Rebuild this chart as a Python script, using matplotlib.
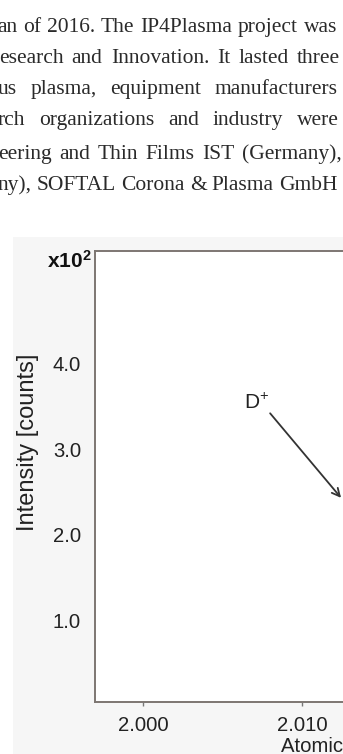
import matplotlib
matplotlib.use("Agg")
import matplotlib.pyplot as plt
from matplotlib.patches import Rectangle

# ---------------- data ----------------
paragraph_lines = [
    "an of 2016. The IP4Plasma project was",
    "esearch and Innovation. It lasted three",
    "us plasma, equipment manufacturers",
    "rch organizations and industry were",
    "eering and Thin Films IST (Germany),",
    "ny), SOFTAL Corona & Plasma GmbH",
]
x_ticks = [2.000, 2.010, 2.020]
x_tick_labels = ["2.000", "2.010", "2.020"]
y_ticks = [1.0, 2.0, 3.0, 4.0]
y_tick_labels = ["1.0", "2.0", "3.0", "4.0"]
x_limits = (1.99698, 2.0237)
y_limits = (0.04, 5.32)
y_scale_label = r"$\mathbf{x10^2}$"
y_label = "Intensity [counts]"
x_label = "Atomic mass [amu]"
peak_label = r"D$^{+}$"
peak_label_xy = (2.00711, 3.54)
peak_arrow_from = (2.00799, 3.42)
peak_arrow_to = (2.01245, 2.43)

# ---------------- layout ----------------
W, H, DPI = 343, 754, 100
plt.rcParams["mathtext.fontset"] = "custom"
plt.rcParams["mathtext.rm"] = "Liberation Sans"
plt.rcParams["mathtext.bf"] = "Liberation Sans:bold"
plt.rcParams["font.family"] = ["Liberation Sans", "DejaVu Sans"]

fig = plt.figure(figsize=(W / DPI, H / DPI), dpi=DPI)
fig.patch.set_facecolor("white")

def fx(px):
    return px / W

def fy(py):
    return 1 - py / H

# faint scanned-figure background
fig.patches.append(Rectangle((fx(13), 0), 1, fy(237), transform=fig.transFigure,
                             facecolor="#f6f6f6", edgecolor="none", zorder=-5))

# ---------------- paragraph (justified words) ----------------
line_baselines = [32, 63, 94, 125, 159, 190]
line_left = [-3, -1, -2, -2, -2, -2]
line_right = [337, 340, 338, 339, 342, 337]
fig.canvas.draw()
renderer = fig.canvas.get_renderer()
for text, base, left, right in zip(paragraph_lines, line_baselines, line_left, line_right):
    words = text.split(" ")
    objs = [fig.text(0, fy(base), w, fontsize=15.5, family=["Liberation Serif", "DejaVu Serif"],
                     color="#2a2a2a", ha="left", va="baseline") for w in words]
    widths = [o.get_window_extent(renderer).width for o in objs]
    gap = (right - left - sum(widths)) / max(len(words) - 1, 1)
    x = left
    for o, wd in zip(objs, widths):
        o.set_x(fx(x))
        x += wd + gap

# ---------------- chart ----------------
ax_left, ax_top, ax_bottom, ax_right = 95, 251, 702, 520
ax = fig.add_axes([fx(ax_left), fy(ax_bottom), fx(ax_right - ax_left), (ax_bottom - ax_top) / H])
ax.set_zorder(2)
ax.set_facecolor("white")
ax.set_xlim(*x_limits)
ax.set_ylim(*y_limits)
ax.set_xticks(x_ticks)
ax.set_xticklabels(x_tick_labels)
ax.set_yticks(y_ticks)
ax.set_yticklabels(y_tick_labels)
ax.tick_params(axis="x", length=3, width=1, color="#777777", pad=7, labelsize=14.6, labelcolor="#222222")
ax.tick_params(axis="y", length=0, pad=10, labelsize=14.6, labelcolor="#222222")
for s in ax.spines.values():
    s.set_color("#7d7672")
    s.set_linewidth(1.4)

ax.annotate("", xy=peak_arrow_to, xytext=peak_arrow_from,
            arrowprops=dict(arrowstyle="->", color="#333333", lw=1.3, mutation_scale=14,
                            shrinkA=0, shrinkB=0))
ax.text(*peak_label_xy, peak_label, fontsize=15, color="#222222", ha="center", va="center")

fig.text(fx(92), fy(268), y_scale_label, fontsize=15, ha="right", va="baseline", color="#111111")
fig.text(fx(28), fy(442), y_label, fontsize=17, rotation=90, ha="center", va="center", color="#222222")
fig.text(fx(281), fy(752), x_label, fontsize=14.6, ha="left", va="baseline", color="#222222")

fig.savefig("out.png", dpi=DPI)
